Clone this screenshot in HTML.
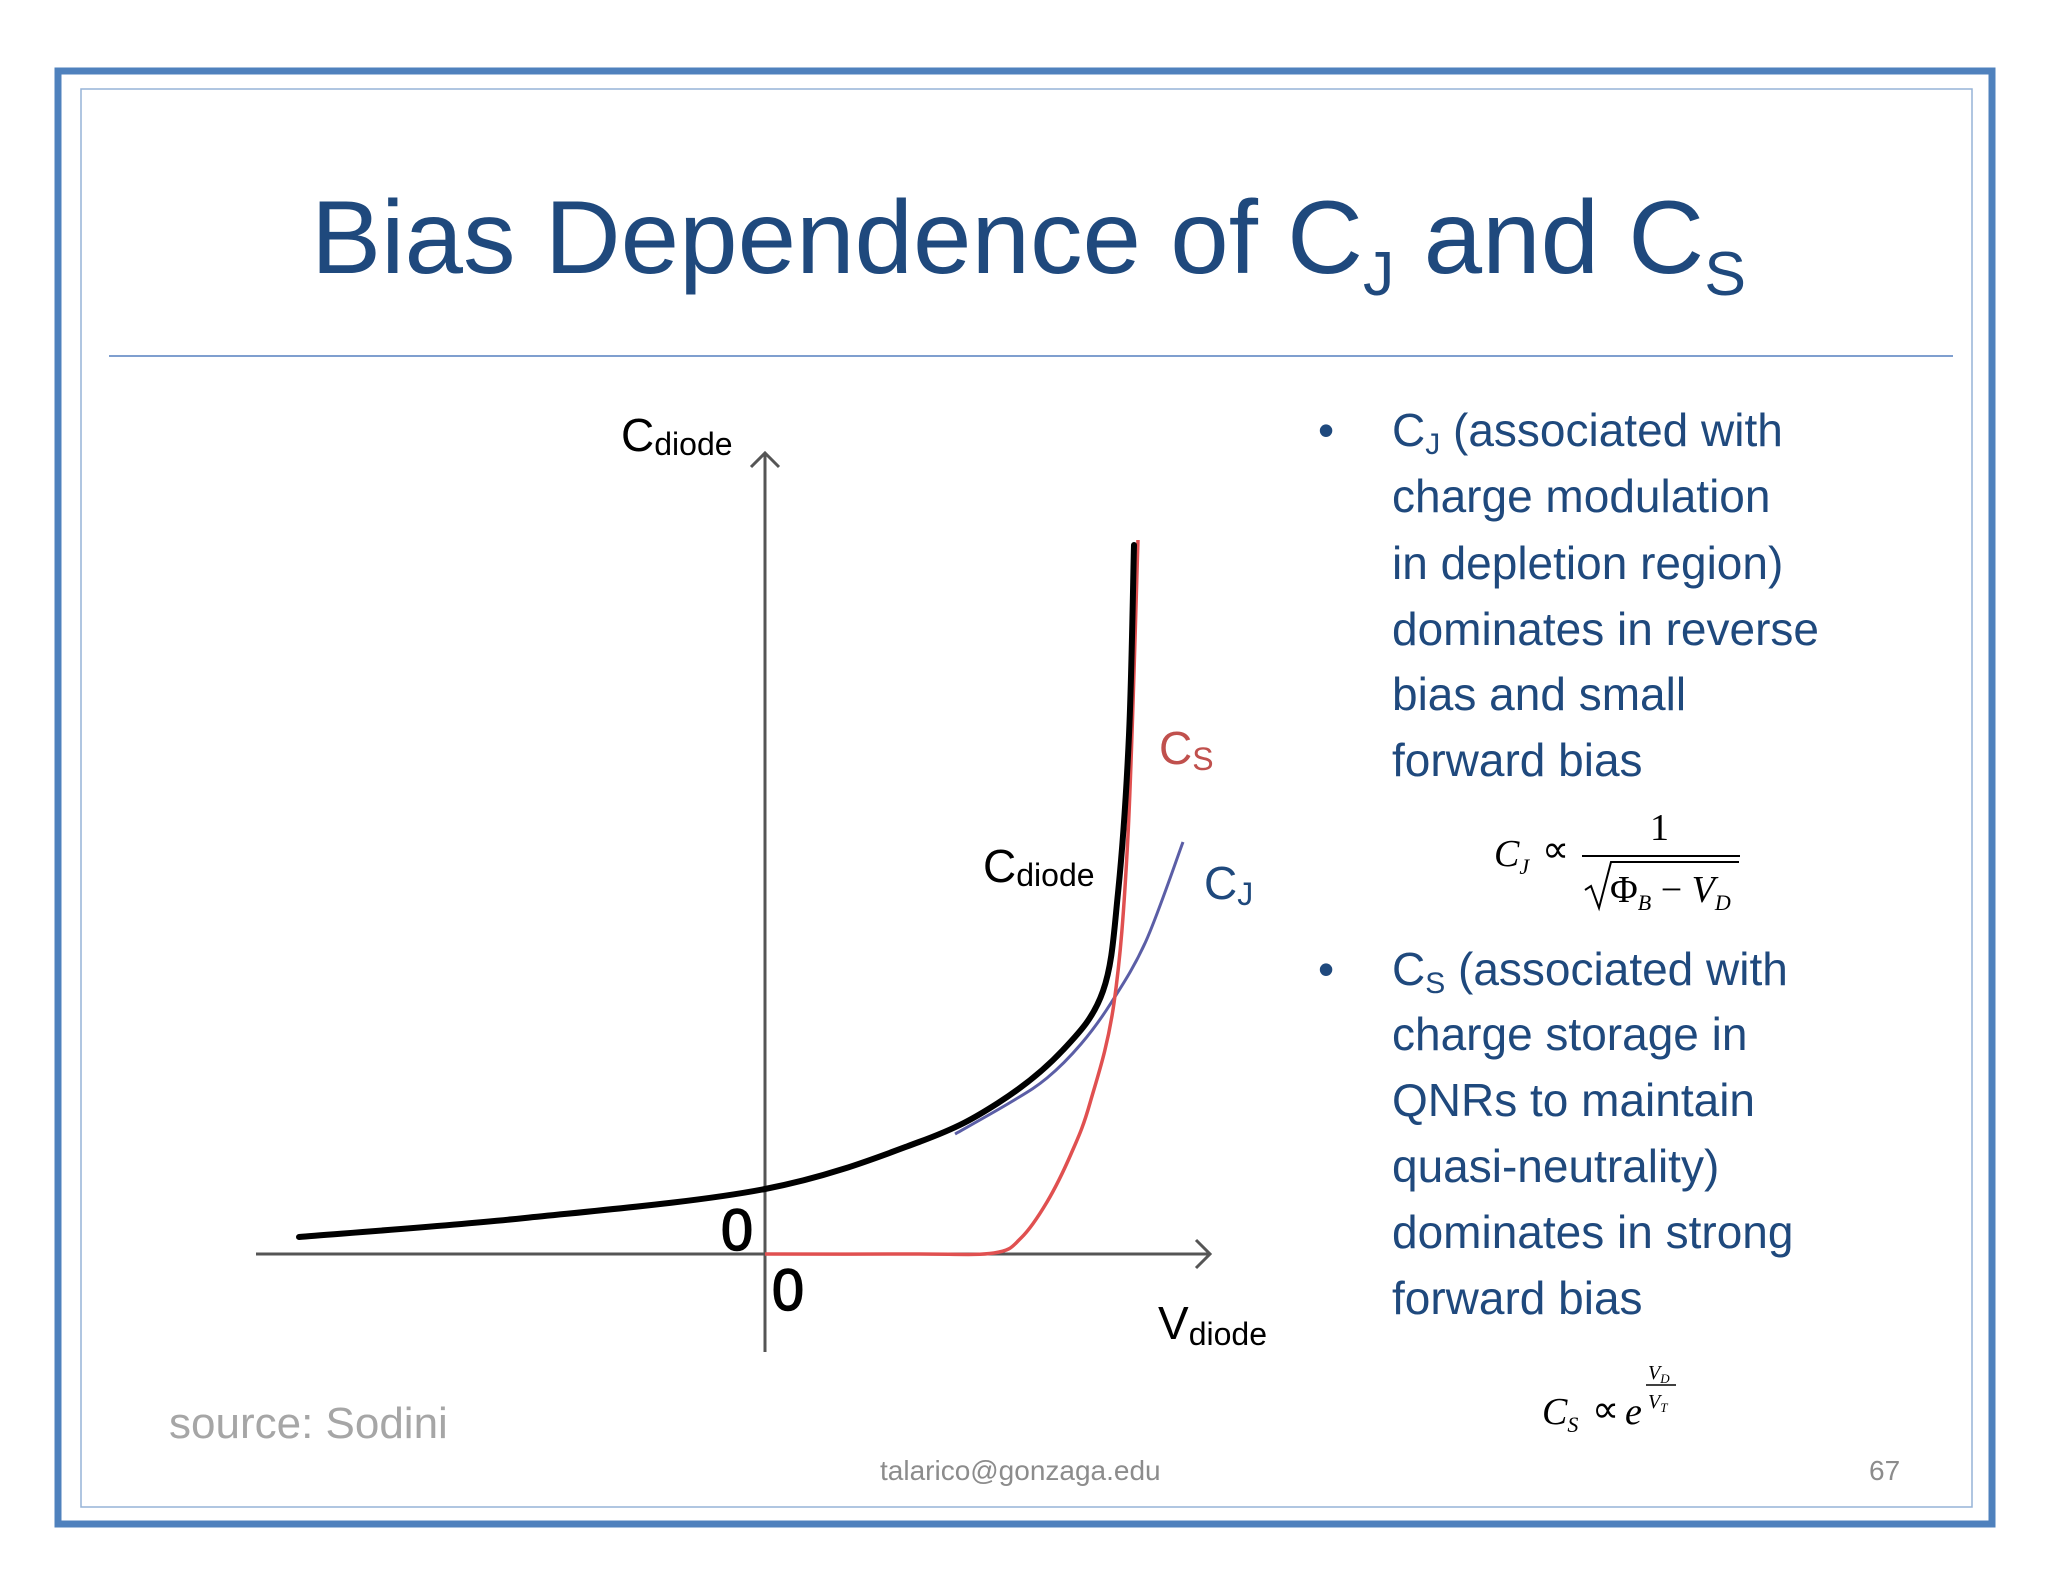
<!DOCTYPE html>
<html><head><meta charset="utf-8"><style>html,body{margin:0;padding:0;background:#fff}svg{display:block}</style></head>
<body>
<svg id="slide" width="2048" height="1582" viewBox="0 0 2048 1582" xmlns="http://www.w3.org/2000/svg" font-family="'Liberation Sans', sans-serif">
<rect x="58" y="71" width="1934" height="1453" fill="none" stroke="#4f81bd" stroke-width="7"/>
<rect x="81" y="89" width="1891" height="1418" fill="none" stroke="#95b3d7" stroke-width="1.5"/>
<text x="311" y="273" font-size="104" fill="#1f497d" textLength="1435" lengthAdjust="spacingAndGlyphs">Bias Dependence of C<tspan font-size="62" dy="22">J</tspan><tspan dy="-22"> and C</tspan><tspan font-size="62" dy="22">S</tspan></text>
<line x1="109" y1="356" x2="1953" y2="356" stroke="#7f9fcf" stroke-width="2"/>

<g id="chart"></g>

<g>
<text x="621" y="451" font-size="46" fill="#000">C<tspan font-size="32" dy="4">diode</tspan></text>
<text x="721" y="1250" font-size="58" fill="#000" stroke="#000" stroke-width="1.5" textLength="32" lengthAdjust="spacingAndGlyphs">0</text>
<text x="772" y="1310" font-size="58" fill="#000" stroke="#000" stroke-width="1.5" textLength="32" lengthAdjust="spacingAndGlyphs">0</text>
<text x="1159" y="764" font-size="46" fill="#c0504d">C<tspan font-size="32" dy="6">S</tspan></text>
<text x="983" y="882" font-size="46" fill="#000">C<tspan font-size="32" dy="4">diode</tspan></text>
<text x="1204" y="899" font-size="46" fill="#1f497d">C<tspan font-size="32" dy="6">J</tspan></text>
<text x="1158" y="1339" font-size="46" fill="#000">V<tspan font-size="32" dy="6">diode</tspan></text>
</g>

<g fill="#1f497d" font-size="46">
<text x="1318" y="446">•</text>
<text x="1392" y="446">C<tspan font-size="30" dy="8">J</tspan><tspan dy="-8"> (associated with</tspan></text>
<text x="1392" y="512">charge modulation</text>
<text x="1392" y="579">in depletion region)</text>
<text x="1392" y="645">dominates in reverse</text>
<text x="1392" y="710">bias and small</text>
<text x="1392" y="776">forward bias</text>
<text x="1318" y="985">•</text>
<text x="1392" y="985">C<tspan font-size="30" dy="8">S</tspan><tspan dy="-8"> (associated with</tspan></text>
<text x="1392" y="1050">charge storage in</text>
<text x="1392" y="1116">QNRs to maintain</text>
<text x="1392" y="1182">quasi-neutrality)</text>
<text x="1392" y="1248">dominates in strong</text>
<text x="1392" y="1314">forward bias</text>
</g>

<g font-family="'Liberation Serif', serif" fill="#000" font-size="38">
<text x="1494" y="866" font-style="italic">C<tspan font-size="22" dy="8">J</tspan></text>
<text x="1542" y="862">∝</text>
<text x="1650" y="840">1</text>
<line x1="1582" y1="856" x2="1740" y2="856" stroke="#000" stroke-width="2"/>
<path d="M1585 890 l6 -4 l8 22 l12 -46 h128" fill="none" stroke="#000" stroke-width="2"/>
<text x="1610" y="902">Φ<tspan font-size="22" dy="8" font-style="italic">B</tspan><tspan dy="-8"> − </tspan><tspan font-style="italic">V</tspan><tspan font-size="22" dy="8" font-style="italic">D</tspan></text>
</g>
<g font-family="'Liberation Serif', serif" fill="#000" font-size="38" font-style="italic">
<text x="1542" y="1424">C<tspan font-size="22" dy="8">S</tspan></text>
<text x="1592" y="1422" font-style="normal">∝</text>
<text x="1625" y="1424">e</text>
<text x="1648" y="1379" font-size="20">V<tspan font-size="13" dy="4">D</tspan></text>
<line x1="1646" y1="1385" x2="1676" y2="1385" stroke="#000" stroke-width="1.5"/>
<text x="1648" y="1408" font-size="20">V<tspan font-size="13" dy="4">T</tspan></text>
</g>

<text x="169" y="1438" font-size="44" fill="#a6a6a6">source: Sodini</text>
<text x="880" y="1480" font-size="28" fill="#8c8c8c">talarico@gonzaga.edu</text>
<text x="1869" y="1480" font-size="28" fill="#8c8c8c">67</text>
</svg>
<script>
// data (V in arbitrary units, C in arbitrary units)
const cdiodeV = [-4.66,-2.4,0,1.54,2.33,2.98,3.38,3.53,3.64,3.69];
const cdiodeC = [0.17,0.36,0.65,1.12,1.51,2.04,2.63,3.61,5.19,7.09];
const csV = [0,1.5,2.29,2.56,2.82,3.06,3.25,3.49,3.63,3.73];
const csC = [0,0,0.01,0.16,0.52,1.00,1.51,2.51,4.19,7.14];
const cjV = [1.9,2.46,2.82,3.16,3.46,3.81,4.18];
const cjC = [1.2,1.52,1.76,2.10,2.51,3.13,4.12];

const ox = 765, oy = 1254, kx = 100, ky = 100;
function xs(v){ return ox + v*kx; }
function ys(c){ return oy - c*ky; }
const NS = 'http://www.w3.org/2000/svg';
const g = document.getElementById('chart');

function mk(tag, attrs){ const e = document.createElementNS(NS, tag); for (const k in attrs) e.setAttribute(k, attrs[k]); return e; }

const xAxis = mk('path', {d:`M256 ${oy} H1210 M1196 ${oy-14} L1210 ${oy} L1196 ${oy+14}`, fill:'none', stroke:'#555', 'stroke-width':3});


g.appendChild(xAxis);
const yAxis = mk('path', {d:`M${ox} 1352 V453 M${ox-14} 467 L${ox} 453 L${ox+14} 467`, fill:'none', stroke:'#555', 'stroke-width':3});


g.appendChild(yAxis);

function smooth(V, C){
  const p = V.map((v,i)=>[xs(v), ys(C[i])]);
  let d = `M${p[0][0]} ${p[0][1]}`;
  for (let i=0;i<p.length-1;i++){
    const p0 = p[i-1]||p[i], p1=p[i], p2=p[i+1], p3=p[i+2]||p2;
    const c1=[p1[0]+(p2[0]-p0[0])/6, p1[1]+(p2[1]-p0[1])/6];
    const c2=[p2[0]-(p3[0]-p1[0])/6, p2[1]-(p3[1]-p1[1])/6];
    d += ` C${c1[0]} ${c1[1]} ${c2[0]} ${c2[1]} ${p2[0]} ${p2[1]}`;
  }
  return d;
}
const cj = mk('path', {d:smooth(cjV, cjC), fill:'none', stroke:'#5b5ea6', 'stroke-width':3});


g.appendChild(cj);
const cs = mk('path', {d:smooth(csV, csC), fill:'none', stroke:'#e05050', 'stroke-width':3.5});


g.appendChild(cs);
const cd = mk('path', {d:smooth(cdiodeV, cdiodeC), fill:'none', stroke:'#000', 'stroke-width':6, 'stroke-linecap':'round'});


g.appendChild(cd);
</script>
</body></html>
